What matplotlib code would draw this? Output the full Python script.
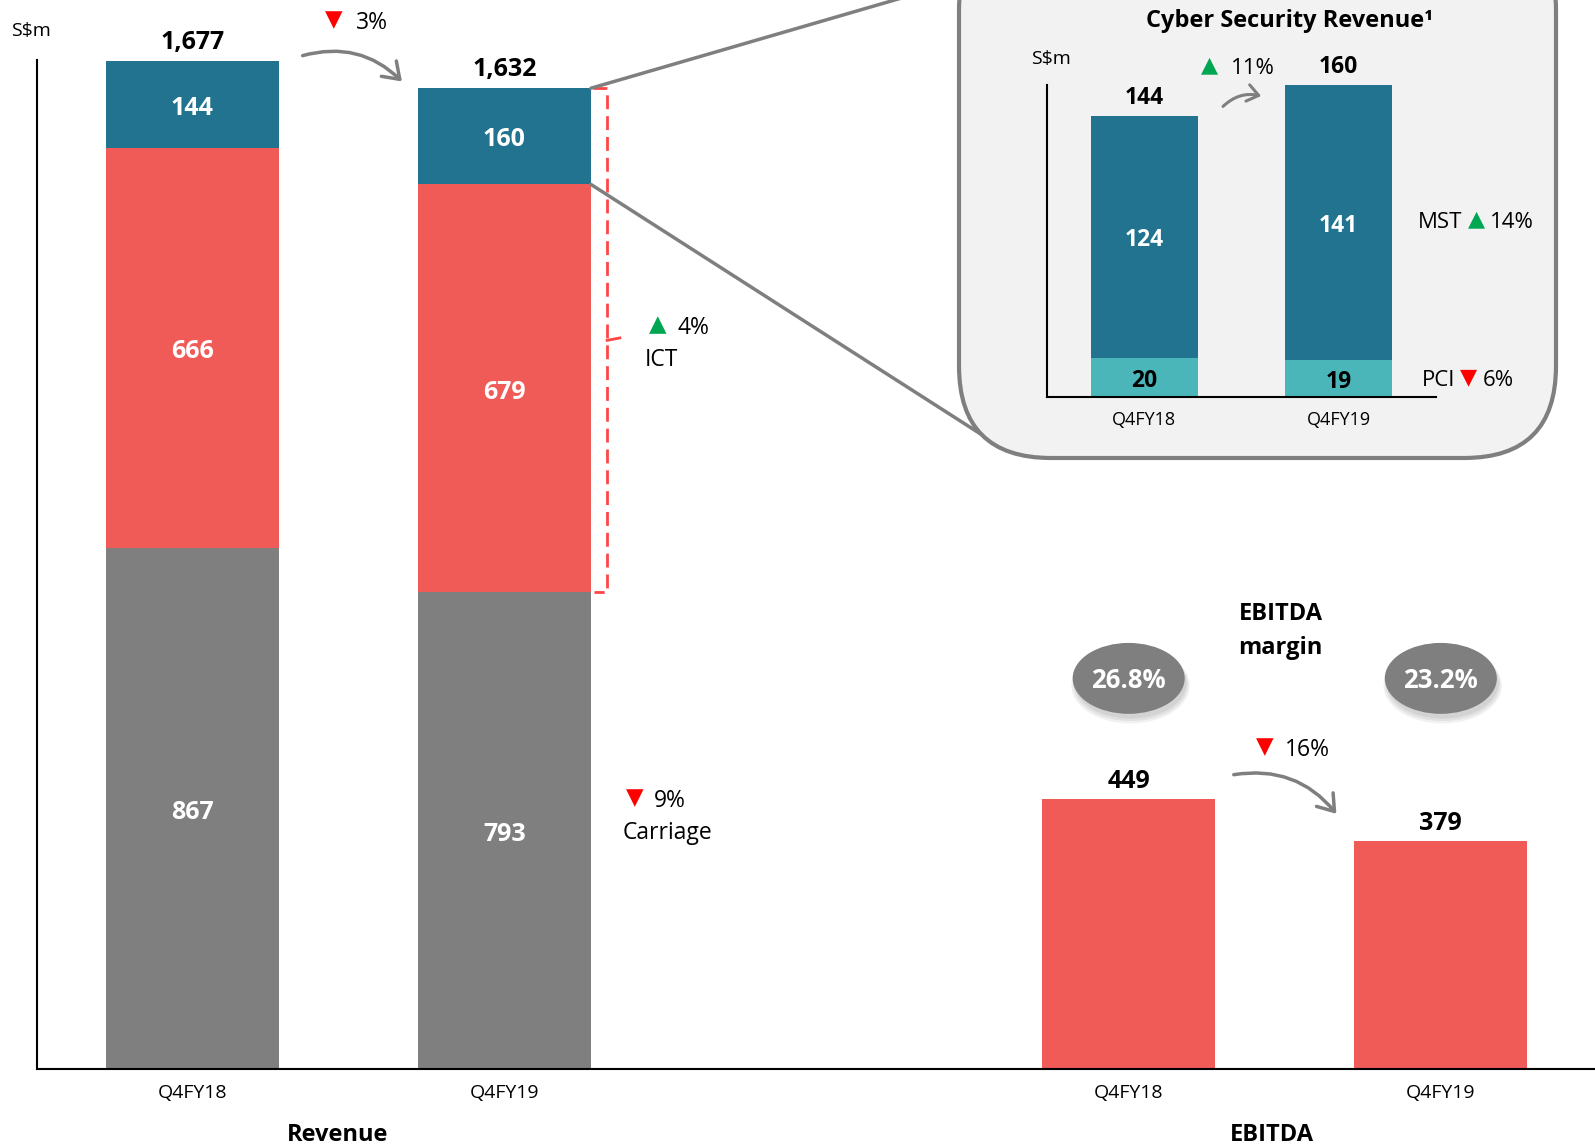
import matplotlib
matplotlib.use("Agg")
import matplotlib.pyplot as plt
from matplotlib.patches import Ellipse, FancyBboxPatch, FancyArrowPatch, ConnectionPatch

plt.rcParams['font.family'] = ['Open Sans', 'DejaVu Sans']

# data
periods = ["Q4FY18", "Q4FY19"]
carriage = [867, 793]
ict = [666, 679]
cyber = [144, 160]
rev_total = [1677, 1632]
ebitda = [449, 379]
ebitda_margin = ["26.8%", "23.2%"]
pci = [20, 19]
mst = [124, 141]
cyber_total = [144, 160]

TEAL = "#21738F"
RED = "#F05B57"
GREY = "#7F7F7F"
LTEAL = "#4BB6BA"
UP = "#00A651"
DOWN = "#FF0000"
SYM = ['DejaVu Sans']

fig = plt.figure(figsize=(15.95, 11.47), dpi=100)
ax = fig.add_axes([0.0229, 0.068, 0.9771, 0.8797], zorder=0)

rev_x = [0, 1]
eb_x = [3, 4]
w = 0.554
ict_bottom = [c + i for c, i in zip(carriage, ict)]
ax.bar(rev_x, carriage, w, color=GREY)
ax.bar(rev_x, ict, w, bottom=carriage, color=RED)
ax.bar(rev_x, cyber, w, bottom=ict_bottom, color=TEAL)
ax.bar(eb_x, ebitda, w, color=RED)

ax.set_xlim(-0.499, 4.494)
ax.set_ylim(0, 1679)
for s in ["top", "right"]:
    ax.spines[s].set_visible(False)
for s in ["left", "bottom"]:
    ax.spines[s].set_linewidth(1.5)
ax.set_yticks([])
ax.set_xticks(rev_x + eb_x)
ax.set_xticklabels(periods + periods)
ax.tick_params(axis="x", length=0, pad=11, labelsize=14)

d = -6  # text optical offset
lab = dict(ha="center", va="center", fontsize=18, fontweight="bold")
for x, c, i, cy, t in zip(rev_x, carriage, ict, cyber, rev_total):
    ax.text(x, c / 2 + d, str(c), color="white", **lab)
    ax.text(x, c + i / 2 + d, str(i), color="white", **lab)
    ax.text(x, c + i + cy / 2 + d, str(cy), color="white", **lab)
    ax.text(x, t + 37 + d, f"{t:,}", color="black", **lab)
for x, e in zip(eb_x, ebitda):
    ax.text(x, e + 36 + d, str(e), color="black", **lab)

ax.text(-0.517, 1734 + d, "S$m", ha="center", va="center", fontsize=14)
ax.text(0.466, -103 + d, "Revenue", ha="center", va="center", fontsize=17, fontweight="bold")
ax.text(3.458, -103 + d, "EBITDA", ha="center", va="center", fontsize=17, fontweight="bold")

# change annotations
ann = dict(va="center", fontsize=16.5)
ax.text(0.453, 1746, "▼", color=DOWN, ha="center", family=SYM, **ann)
ax.text(0.525, 1746 + d, "3%", ha="left", **ann)
ax.text(1.492, 1239, "▲", color=UP, ha="center", family=SYM, **ann)
ax.text(1.554, 1239 + d, "4%", ha="left", **ann)
ax.text(1.450, 1185 + d, "ICT", ha="left", **ann)
ax.text(1.417, 452, "▼", color=DOWN, ha="center", family=SYM, **ann)
ax.text(1.479, 452 + d, "9%", ha="left", **ann)
ax.text(1.378, 398 + d, "Carriage", ha="left", **ann)
ax.text(3.437, 537, "▼", color=DOWN, ha="center", family=SYM, **ann)
ax.text(3.50, 537 + d, "16%", ha="left", **ann)
ax.text(3.487, 729, "EBITDA\nmargin", ha="center", va="center", fontsize=17,
        fontweight="bold", linespacing=1.55)

for x, m in zip(eb_x, ebitda_margin):
    for k in range(3):
        ax.add_patch(Ellipse((x + 0.006, 642 - 2 * k), 0.359 + 0.01 * k, 118 + 4 * k,
                             color="black", alpha=0.06, lw=0, clip_on=False))
    ax.add_patch(Ellipse((x, 650), 0.359, 118, color=GREY, lw=0, clip_on=False, zorder=3))
    ax.text(x, 650 + d / 2, m, color="white", ha="center", va="center", fontsize=18.5,
            fontweight="bold", zorder=4)

arrow_kw = dict(arrowstyle="->,head_length=0.5,head_width=0.35", mutation_scale=22,
                color=GREY, lw=2.5, clip_on=False)
ax.add_patch(FancyArrowPatch((0.345, 1685), (0.678, 1640), connectionstyle="arc3,rad=-0.3", **arrow_kw))
ax.add_patch(FancyArrowPatch((3.328, 489), (3.671, 421), connectionstyle="arc3,rad=-0.3", **arrow_kw))

# ICT brace
bx = 1.329
top, bot = rev_total[1], carriage[1]
ax.plot([1.283, bx, bx, 1.288], [top, top, bot, bot], color="#FF4545", lw=2,
        ls=(0, (5, 2.5)), clip_on=False)
ax.plot([bx, 1.37], [(top + bot) / 2, (top + bot) / 2 + 4], color="#FF4545", lw=2, clip_on=False)

# overlay in figure pixels for zoom lines and box
ov = fig.add_axes([0, 0, 1, 1], zorder=1)
ov.set_xlim(0, 1595)
ov.set_ylim(0, 1147)
ov.axis("off")
ov.patch.set_alpha(0)
for yv, end in [(rev_total[1], (905, 1150)), (ict_bottom[1], (990, 707))]:
    con = ConnectionPatch(xyA=(1 + w / 2, yv), coordsA=ax.transData, xyB=end,
                          coordsB=ov.transData, color=GREY, lw=2.5, zorder=1)
    ov.add_artist(con)
ov.add_patch(FancyBboxPatch((959, 689), 597, 540, boxstyle="round,pad=0,rounding_size=92",
                            fc="#F2F2F2", ec=GREY, lw=3, zorder=2))

# inset: cyber security revenue
iax = fig.add_axes([0.6564, 0.6539, 0.2439, 0.2720], zorder=2)
iax.patch.set_alpha(0)
ix = [0, 1]
iw = 0.55
iax.bar(ix, pci, iw, color=LTEAL)
iax.bar(ix, mst, iw, bottom=pci, color=TEAL)
iax.set_xlim(-0.5, 1.5)
iax.set_ylim(0, 160)
for s in ["top", "right"]:
    iax.spines[s].set_visible(False)
for s in ["left", "bottom"]:
    iax.spines[s].set_linewidth(1.5)
iax.set_yticks([])
iax.set_xticks(ix)
iax.set_xticklabels(periods)
iax.tick_params(axis="x", length=0, pad=10, labelsize=13)

e = -1.6
ilab = dict(ha="center", va="center", fontsize=16.5, fontweight="bold")
for x, p, m, t in zip(ix, pci, mst, cyber_total):
    iax.text(x, p / 2 + e, str(p), color="black", **ilab)
    iax.text(x, p + m / 2 + e, str(m), color="white", **ilab)
    iax.text(x, t + 11 + e, str(t), color="black", **ilab)

iax.text(0.749, 196 + 2 * e, "Cyber Security Revenue¹", ha="center", va="center", fontsize=17,
         fontweight="bold")
iax.text(-0.477, 175 + e, "S$m", ha="center", va="center", fontsize=14)
iann = dict(va="center", fontsize=16)
iax.text(0.338, 170, "▲", color=UP, ha="center", family=SYM, **iann)
iax.text(0.446, 170 + e, "11%", ha="left", **iann)
iax.text(1.405, 91 + e, "MST", ha="left", **iann)
iax.text(1.708, 91, "▲", color=UP, ha="center", family=SYM, **iann)
iax.text(1.779, 91 + e, "14%", ha="left", **iann)
iax.text(1.426, 10 + e, "PCI", ha="left", **iann)
iax.text(1.667, 10, "▼", color=DOWN, ha="center", family=SYM, **iann)
iax.text(1.738, 10 + e, "6%", ha="left", **iann)
iax.add_patch(FancyArrowPatch((0.395, 148), (0.615, 154), connectionstyle="arc3,rad=-0.3",
                              arrowstyle="->,head_length=0.4,head_width=0.3", mutation_scale=20,
                              color=GREY, lw=2.2, clip_on=False))

fig.savefig("out.png", dpi=100)
